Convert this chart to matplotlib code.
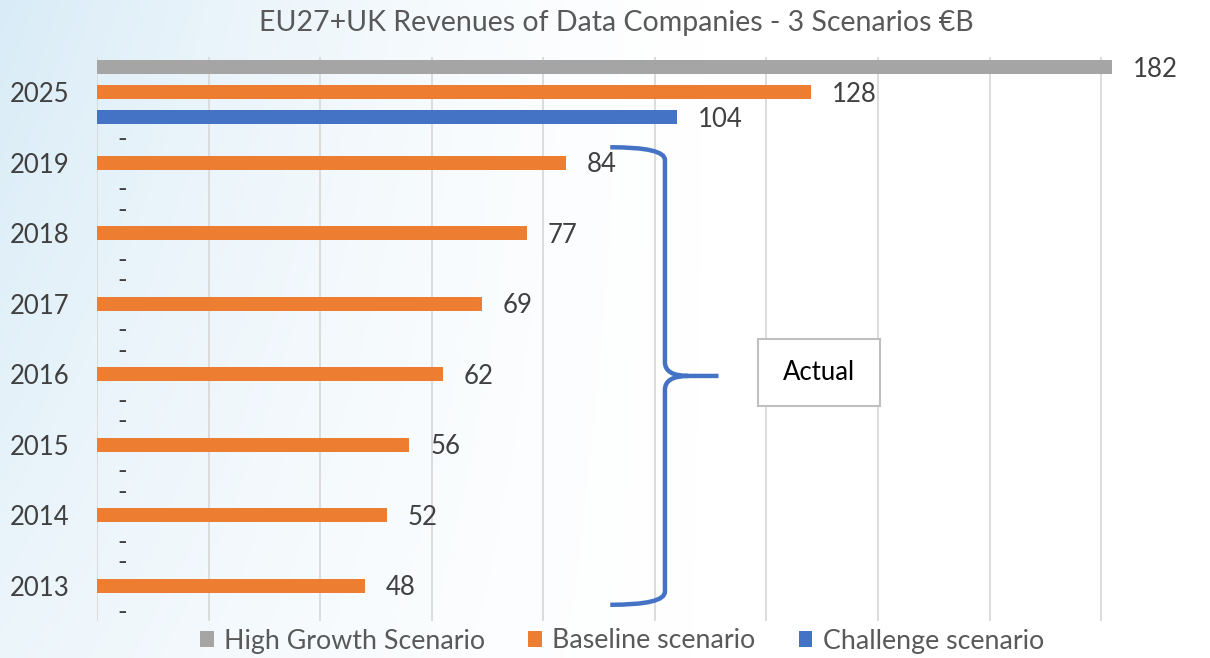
import numpy as np
import matplotlib.pyplot as plt
from matplotlib.path import Path
from matplotlib.patches import PathPatch, Rectangle

plt.rcParams['font.family'] = ['Lato', 'DejaVu Sans']

# data
years = ['2013', '2014', '2015', '2016', '2017', '2018', '2019', '2025']
high_growth = [0, 0, 0, 0, 0, 0, 0, 182]
baseline = [48, 52, 56, 62, 69, 77, 84, 128]
challenge = [0, 0, 0, 0, 0, 0, 0, 104]
series_names = ['High Growth Scenario', 'Baseline scenario', 'Challenge scenario']
colors = ['#a5a5a5', '#ed7d31', '#4472c4']
title = 'EU27+UK Revenues of Data Companies - 3 Scenarios €B'

text_col = '#404040'
fs = 18.5

fig = plt.figure(figsize=(12.1, 6.58), dpi=100)

# faint decorative background on the left
bg = fig.add_axes([0, 0, 1, 1], zorder=-5)
xx = np.linspace(0, 1, 400)
yy = np.linspace(0, 1, 200)
X, Y = np.meshgrid(xx, yy)
alpha = np.clip(1 - X / 0.6, 0, 1) ** 1.5 * (0.5 + 0.5 * (1 - Y))
img = np.zeros((200, 400, 4))
img[..., 0] = 0.80
img[..., 1] = 0.90
img[..., 2] = 0.96
img[..., 3] = alpha * 0.75
bg.imshow(img, extent=[0, 1, 0, 1], aspect='auto', origin='upper')
bg.set_axis_off()

ax = fig.add_axes([97 / 1210, 1 - 621 / 658, 1 - 97 / 1210, (621 - 57) / 658])
ax.set_facecolor('none')

y = np.arange(len(years))
off = 0.355
h = 0.2
all_vals = [high_growth, baseline, challenge]
offsets = [off, 0, -off]
for vals, name, c, o in zip(all_vals, series_names, colors, offsets):
    bars = ax.barh(y + o, vals, height=h, color=c, label=name, zorder=3)
    for b, v in zip(bars, vals):
        lab = '-' if v == 0 else f'{v}'
        ax.annotate(lab, (b.get_width(), b.get_y() + b.get_height() / 2),
                    xytext=(15, -1.5), textcoords='offset points',
                    va='center', ha='left', fontsize=fs, color=text_col)

ax.set_xlim(0, 199.5)
ax.set_ylim(-0.5, len(years) - 0.5)
ax.set_xticks(np.arange(0, 181, 20))
ax.set_xticklabels([])
ax.set_yticks(y)
ax.set_yticklabels(years, fontsize=fs, color=text_col)
ax.tick_params(length=0, axis='y', pad=20)
ax.tick_params(length=0, axis='x')
ax.grid(axis='x', color='#d9d9d9', lw=1.3, zorder=0)
for s in ax.spines.values():
    s.set_visible(False)

# curly brace for the "Actual" years
verts = [(92.0, 6.22), (101.8, 6.22), (101.8, 6.04),
         (101.8, 3.17),
         (101.8, 2.976), (106.0, 2.976), (111.4, 2.976),
         (106.0, 2.976), (101.8, 2.976), (101.8, 2.78),
         (101.8, -0.085),
         (101.8, -0.27), (92.0, -0.27)]
codes = [Path.MOVETO, Path.CURVE3, Path.CURVE3,
         Path.LINETO,
         Path.CURVE3, Path.CURVE3, Path.LINETO,
         Path.MOVETO, Path.CURVE3, Path.CURVE3,
         Path.LINETO,
         Path.CURVE3, Path.CURVE3]
ax.add_patch(PathPatch(Path(verts, codes), fill=False, edgecolor='#4472c4',
                       lw=3.2, capstyle='butt', zorder=4))
ax.add_patch(Rectangle((118.5, 2.55), 21.9, 0.95, facecolor='white',
                       edgecolor='#bfbfbf', lw=1.5, zorder=4))
ax.text(129.4, 3.02, 'Actual', ha='center', va='center', fontsize=fs,
        color='black', zorder=5)

fig.text(616 / 1210, 1 - 23 / 658, title, ha='center', va='center',
         fontsize=20.5, color='#595959')

ax.legend(loc='center', bbox_to_anchor=(622 / 1210, 1 - 641 / 658),
          bbox_transform=fig.transFigure, ncol=3, frameon=False,
          fontsize=19.3, labelcolor='#595959', handlelength=0.5,
          handleheight=0.5, handletextpad=0.4, columnspacing=1.6)

fig.savefig('out.png', dpi=100)
